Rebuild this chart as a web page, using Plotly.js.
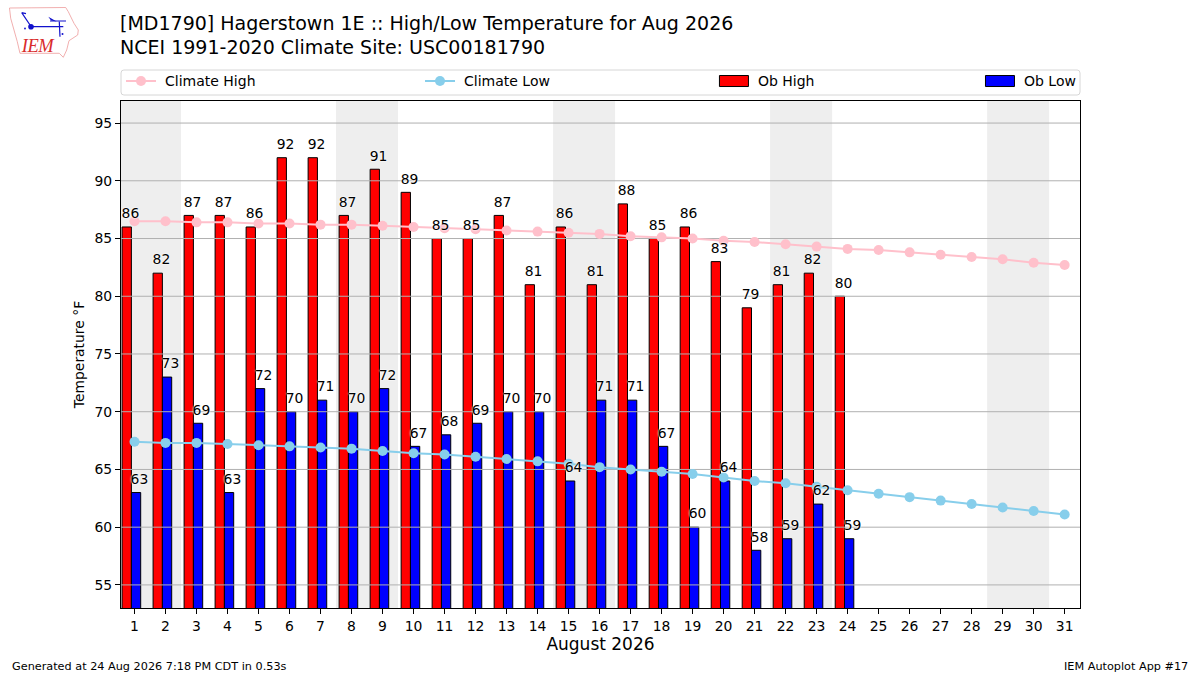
<!DOCTYPE html>
<html>
<head>
<meta charset="utf-8">
<script src="https://cdn.plot.ly/plotly-3.0.1.min.js"></script>
<style>
html,body{margin:0;padding:0;background:#fff}
.legendtext,.legend2text,.legend3text,.legend4text{transform:translateX(4px)}
</style>
</head>
<body>
<div id="chart" style="width:1200px;height:675px"></div>
<script>
var days = [1,2,3,4,5,6,7,8,9,10,11,12,13,14,15,16,17,18,19,20,21,22,23,24,25,26,27,28,29,30,31];
var obDays = days.slice(0, 24);
var obHigh = [86,82,87,87,86,92,92,87,91,89,85,85,87,81,86,81,88,85,86,83,79,81,82,80];
var obLow = [63,73,69,63,72,70,71,70,72,67,68,69,70,70,64,71,71,67,60,64,58,59,62,59];
var climateHigh = [86.5,86.5,86.4,86.4,86.3,86.3,86.2,86.2,86.1,86.0,85.9,85.8,85.7,85.6,85.5,85.4,85.2,85.1,85.0,84.8,84.7,84.5,84.3,84.1,84.0,83.8,83.6,83.4,83.2,82.9,82.7];
var climateLow = [67.4,67.3,67.3,67.2,67.1,67.0,66.9,66.8,66.6,66.4,66.3,66.1,65.9,65.7,65.5,65.2,65.0,64.8,64.6,64.3,64.0,63.8,63.5,63.2,62.9,62.6,62.3,62.0,61.7,61.4,61.1];
var yTicks = [55,60,65,70,75,80,85,90,95];
var weekends = [[0.5,2.5],[7.5,9.5],[14.5,16.5],[21.5,23.5],[28.5,30.5]];

var fontName = '"DejaVu Sans", sans-serif';
var halo = 'white 0 0 2px, white 0 0 2px';
var xRange = [0.565, 31.495];
var labelLift = 0.45;

var logo = 'data:image/svg+xml,' + encodeURIComponent(
    '<svg xmlns="http://www.w3.org/2000/svg" viewBox="0 0 70 51" width="70" height="51">' +
    '<path d="M0.5 1 L56.7 0.5 L59.3 4.7 L65 16.3 L69.3 23 L68.7 28 L60 33.7 L57.7 43 L54.3 50.3 L50.3 46.3 L11 46.3 L8.3 34.7 L5 23 L1.7 11.3 Z" fill="#fff" stroke="#ee9a9a" stroke-width="0.8"/>' +
    '<path d="M22 19.7 H54.3 M41 14 H57 M50.3 14.7 L51 29.7 M12.7 5.7 L21.7 19 M12.7 5.7 L17 6.7" fill="none" stroke="#1111cc" stroke-width="1.2"/>' +
    '<path d="M39.3 9.7 L47.7 14.5 L42 13.5 Z" fill="#1111cc"/>' +
    '<circle cx="22" cy="19.7" r="2.8" fill="#1111cc"/>' +
    '<circle cx="16" cy="21.5" r="0.9" fill="#1111cc"/><circle cx="53.5" cy="27" r="1" fill="#1111cc"/>' +
    '<text x="12.7" y="44.7" font-family="Liberation Serif" font-style="italic" font-size="18.5" textLength="32" fill="#d92b2b">IEM</text>' +
    '</svg>');

// grid runs as one broken line so it sits over the bars but under the climate lines
var gridX = [], gridY = [];
for (var g = 0; g < yTicks.length; g++) {
    gridX.push(xRange[0], xRange[1], null);
    gridY.push(yTicks[g], yTicks[g], null);
}

var traces = [
    {x: obDays, y: obHigh, type: 'bar', name: 'Ob High', width: 0.3, offset: -0.4, legend: 'legend3',
     marker: {color: 'red', line: {color: 'black', width: 1}}},
    {x: obDays, y: obLow, type: 'bar', name: 'Ob Low', width: 0.3, offset: -0.1, legend: 'legend4',
     marker: {color: 'blue', line: {color: 'black', width: 1}}},
    {x: gridX, y: gridY, type: 'scatter', mode: 'lines', showlegend: false, hoverinfo: 'skip',
     line: {color: '#b0b0b0', width: 1}},
    {x: days, y: climateHigh, type: 'scatter', mode: 'lines+markers', name: 'Climate High', legend: 'legend',
     line: {color: 'pink', width: 2}, marker: {color: 'pink', size: 10}},
    {x: days, y: climateLow, type: 'scatter', mode: 'lines+markers', name: 'Climate Low', legend: 'legend2',
     line: {color: 'skyblue', width: 2}, marker: {color: 'skyblue', size: 10}},
    {x: obDays.map(function (d) { return d - 0.13; }), y: obHigh.map(function (v) { return v + labelLift; }),
     type: 'scatter', mode: 'text', showlegend: false,
     text: obHigh.map(String), textposition: 'top center', cliponaxis: false,
     textfont: {family: fontName, size: 13.9, color: 'black', shadow: halo}},
    {x: obDays.map(function (d) { return d + 0.16; }), y: obLow.map(function (v) { return v + labelLift; }),
     type: 'scatter', mode: 'text', showlegend: false,
     text: obLow.map(String), textposition: 'top center', cliponaxis: false,
     textfont: {family: fontName, size: 13.9, color: 'black', shadow: halo}}
];

var shapes = [];
for (var i = 0; i < weekends.length; i++) {
    shapes.push({type: 'rect', layer: 'below', xref: 'x', yref: 'paper', x0: weekends[i][0], x1: weekends[i][1], y0: 0, y1: 1,
        fillcolor: '#eeeeee', line: {width: 0}});
}
// legend frame
shapes.push({type: 'path', layer: 'below', xref: 'paper', yref: 'paper',
    path: 'M 0.003,1.01183 L 0.997,1.01183 Q 1,1.01183 1,1.01775 L 1,1.05524 Q 1,1.06114 0.997,1.06114 L 0.003,1.06114 Q 0,1.06114 0,1.05524 L 0,1.01775 Q 0,1.01183 0.003,1.01183 Z',
    fillcolor: 'white', line: {color: '#d6d6d6', width: 1}});

var legendBase = {orientation: 'h', yanchor: 'middle', y: 1.0386, xanchor: 'left', bgcolor: 'rgba(0,0,0,0)',
    borderwidth: 0, itemwidth: 30, entrywidth: 120, entrywidthmode: 'pixels',
    font: {family: fontName, size: 14, color: 'black'}};

var layout = {
    width: 1200,
    height: 675,
    paper_bgcolor: 'white',
    plot_bgcolor: 'white',
    margin: {l: 121, r: 120, t: 101, b: 67, autoexpand: false},
    font: {family: fontName, color: 'black'},
    barmode: 'overlay',
    title: {
        text: '[MD1790] Hagerstown 1E :: High/Low Temperature for Aug 2026',
        font: {family: fontName, size: 19.03, color: 'black'},
        x: 0.1, xref: 'container', xanchor: 'left', y: 0.9748, yref: 'container', yanchor: 'top',
        automargin: false
    },
    xaxis: {
        range: xRange,
        tickmode: 'array', tickvals: days, ticktext: days.map(String),
        ticks: 'outside', ticklen: 5, tickcolor: 'black', tickfont: {size: 13.9},
        showgrid: false, zeroline: false, showline: true, mirror: true, linecolor: 'black', linewidth: 1,
        title: {text: 'August 2026', font: {size: 17}, standoff: 4}
    },
    yaxis: {
        range: [53, 96.91],
        tickmode: 'array', tickvals: yTicks, ticktext: yTicks.map(String),
        ticks: 'outside', ticklen: 5, tickcolor: 'black', tickfont: {size: 13.9},
        showgrid: false, zeroline: false, showline: true, mirror: true, linecolor: 'black', linewidth: 1,
        title: {text: 'Temperature °F', font: {size: 13.9}, standoff: 6}
    },
    legend: Object.assign({}, legendBase, {x: 0}),
    legend2: Object.assign({}, legendBase, {x: 0.3118}),
    legend3: Object.assign({}, legendBase, {x: 0.6183}),
    legend4: Object.assign({}, legendBase, {x: 0.8957}),
    shapes: shapes,
    images: [{source: logo, xref: 'paper', yref: 'paper', xanchor: 'left', yanchor: 'top', layer: 'above',
        x: -0.1168, y: 1.1854, sizex: 0.073, sizey: 0.1006, sizing: 'stretch'}],
    annotations: [
        {text: 'NCEI 1991-2020 Climate Site: USC00181790', xref: 'paper', yref: 'paper', x: -0.0021, y: 1.1065,
         xanchor: 'left', yanchor: 'middle', showarrow: false, borderpad: 0, font: {size: 19.03, color: 'black'}},
        {text: 'Generated at 24 Aug 2026 7:18 PM CDT in 0.53s', xref: 'paper', yref: 'paper', x: -0.1158, y: -0.1144,
         xanchor: 'left', yanchor: 'middle', showarrow: false, font: {size: 11.25, color: 'black'}},
        {text: 'IEM Autoplot App #17', xref: 'paper', yref: 'paper', x: 1.1147, y: -0.1144,
         xanchor: 'right', yanchor: 'middle', showarrow: false, font: {size: 11.25, color: 'black'}}
    ]
};

// wide legend swatches for the bars
function widenSwatches() {
    document.querySelectorAll('#chart .legendpoints path').forEach(function (p) {
        if (p.closest('.legendpoints').querySelector('.scatterpts, .js-line')) return;
        p.setAttribute('d', 'M14.5,5.5H-14.5V-5.5H14.5Z');
    });
}

Plotly.newPlot('chart', traces, layout, {displayModeBar: false, staticPlot: true}).then(function () {
    widenSwatches();
    setTimeout(widenSwatches, 50);
    setTimeout(widenSwatches, 300);
});
</script>
</body>
</html>
